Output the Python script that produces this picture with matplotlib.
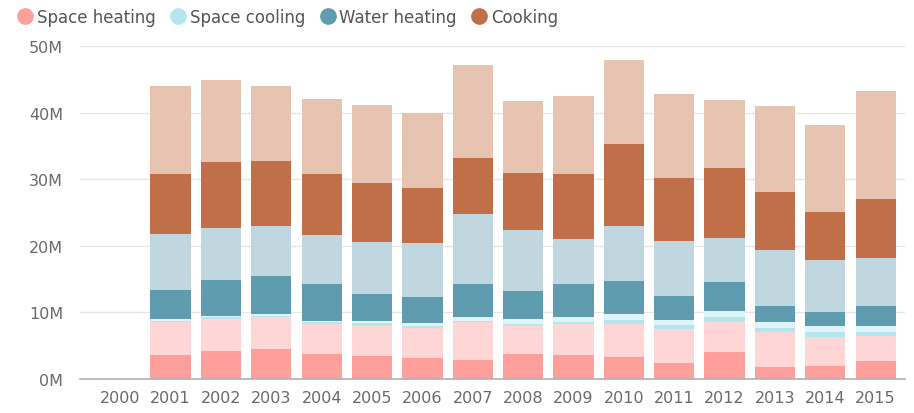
import matplotlib
matplotlib.use("Agg")
import matplotlib.pyplot as plt
from matplotlib.lines import Line2D
import numpy as np

years = ["2000", "2001", "2002", "2003", "2004", "2005", "2006", "2007",
         "2008", "2009", "2010", "2011", "2012", "2013", "2014", "2015"]

# values in millions, bottom to top
space_heating_a = [0, 3.6, 4.2, 4.5, 3.75, 3.4, 3.2, 2.85, 3.7, 3.6, 3.25, 2.35, 4.0, 1.85, 2.0, 2.7]
space_heating_b = [0, 4.9, 4.8, 4.75, 4.5, 4.6, 4.4, 5.65, 4.2, 4.65, 5.0, 5.15, 4.5, 5.15, 4.35, 3.8]
space_cooling_a = [0, 0.25, 0.25, 0.25, 0.25, 0.35, 0.3, 0.25, 0.35, 0.35, 0.65, 0.6, 0.85, 0.6, 0.65, 0.5]
space_cooling_b = [0, 0.25, 0.25, 0.2, 0.25, 0.4, 0.45, 0.5, 0.75, 0.75, 0.8, 0.8, 0.9, 1.0, 0.9, 0.9]
water_heating_a = [0, 4.4, 5.3, 5.7, 5.5, 3.95, 4.0, 5.0, 4.25, 4.85, 4.95, 3.55, 4.25, 2.35, 2.1, 3.0]
water_heating_b = [0, 8.35, 7.8, 7.5, 7.4, 7.9, 8.0, 10.55, 9.15, 6.8, 8.35, 8.2, 6.65, 8.35, 7.9, 7.25]
cooking_a = [0, 9.0, 10.05, 9.9, 9.2, 8.8, 8.3, 8.4, 8.6, 9.8, 12.35, 9.6, 10.5, 8.85, 7.2, 8.85]
cooking_b = [0, 13.25, 12.25, 11.2, 11.25, 11.8, 11.25, 14.0, 10.75, 11.65, 12.6, 12.5, 10.3, 12.8, 13.0, 16.25]

legend_labels = ["Space heating", "Space cooling", "Water heating", "Cooking"]
yticks = [0, 10, 20, 30, 40, 50]
ytick_labels = ["0M", "10M", "20M", "30M", "40M", "50M"]

segments = [
    (space_heating_a, "#ff9f9b"),
    (space_heating_b, "#ffd6d6"),
    (space_cooling_a, "#b4e6ee"),
    (space_cooling_b, "#def4f8"),
    (water_heating_a, "#5f9cb0"),
    (water_heating_b, "#c1d7df"),
    (cooking_a, "#c06f48"),
    (cooking_b, "#e7c3b2"),
]
legend_colors = ["#ff9f9b", "#b4e6ee", "#5f9cb0", "#c06f48"]

fig = plt.figure(figsize=(9.14, 4.14), dpi=100)
ax = fig.add_axes([0.0875, 0.0821, 0.9025, 0.8044])

x = np.arange(len(years))
bottom = np.zeros(len(years))
for vals, col in segments:
    v = np.array(vals)
    ax.bar(x, v, bottom=bottom, width=0.8, color=col, edgecolor="none", zorder=2)
    bottom += v

ax.set_xlim(-0.8, 15.58)
ax.set_ylim(0, 50)
ax.set_yticks(yticks)
ax.set_yticklabels(ytick_labels)
ax.set_xticks(x)
ax.set_xticklabels(years)
ax.grid(axis="y", color="#e6e6e6", linewidth=1, zorder=0)
for s in ["top", "right", "left"]:
    ax.spines[s].set_visible(False)
ax.spines["bottom"].set_color("#b0b0b0")
ax.spines["bottom"].set_linewidth(1.2)
ax.tick_params(axis="both", length=0, labelsize=11.5, colors="#6a6a6a")
ax.tick_params(axis="y", pad=12)
ax.tick_params(axis="x", pad=8)

handles = [Line2D([0], [0], marker="o", linestyle="none", markersize=11,
                  markerfacecolor=c, markeredgecolor=c) for c in legend_colors]
fig.legend(handles, legend_labels, loc="upper left", bbox_to_anchor=(0.003, 1.015),
           ncol=4, frameon=False, handletextpad=0.25, columnspacing=0.9,
           fontsize=12, labelcolor="#555555", handlelength=0.9)

fig.savefig("out.png", dpi=100)
